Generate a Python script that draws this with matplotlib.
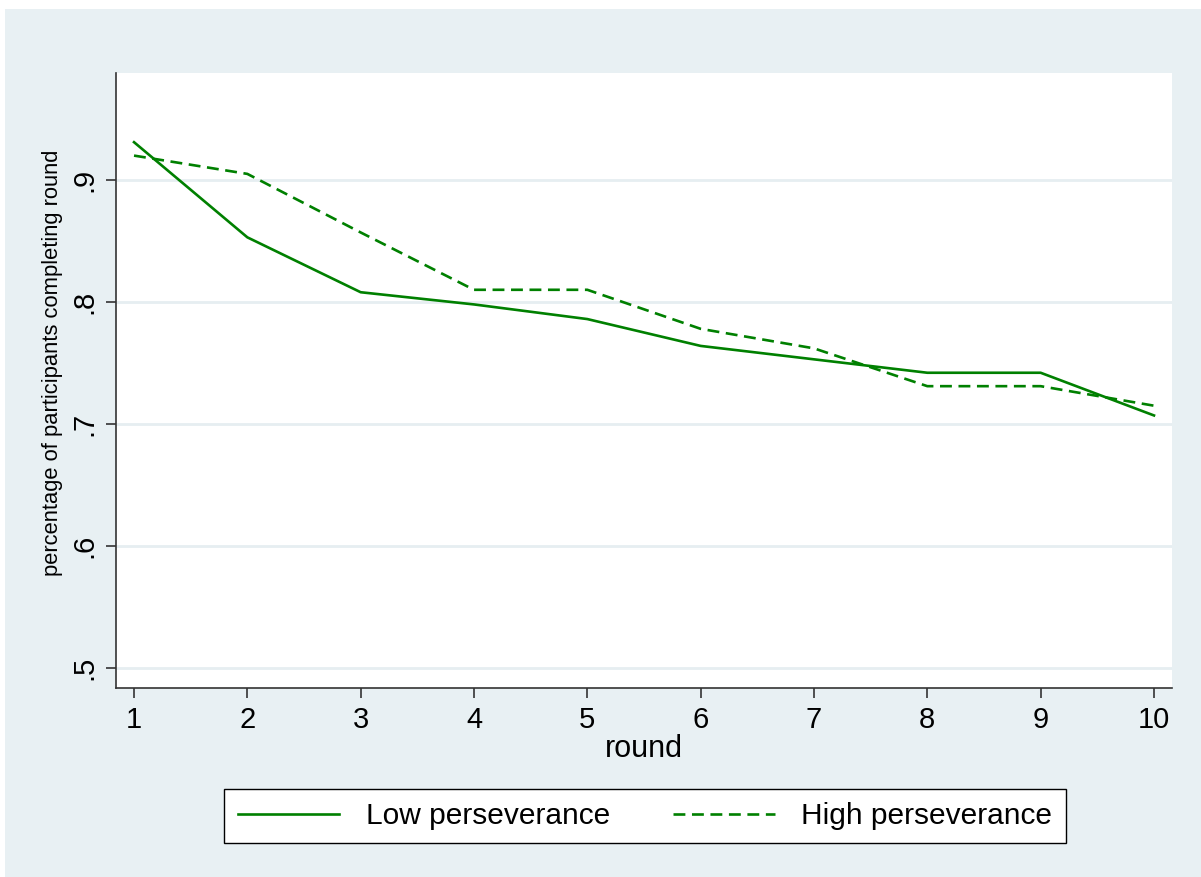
import matplotlib.pyplot as plt
from matplotlib.patches import Rectangle

rounds = [1, 2, 3, 4, 5, 6, 7, 8, 9, 10]
low = [0.931, 0.853, 0.808, 0.798, 0.786, 0.764, 0.753, 0.742, 0.742, 0.707]
high = [0.920, 0.905, 0.857, 0.810, 0.810, 0.778, 0.762, 0.731, 0.731, 0.715]
yticks = [0.5, 0.6, 0.7, 0.8, 0.9]
ytick_labels = ['.5', '.6', '.7', '.8', '.9']

plt.rcParams['font.family'] = ['Liberation Sans', 'DejaVu Sans']

W, H = 1201, 877
fig = plt.figure(figsize=(W / 100, H / 100), dpi=100)
fig.patch.set_facecolor('white')
bg = '#e8f0f3'
fig.patches.append(Rectangle((5 / W, 0), 1, 1 - 9 / H, transform=fig.transFigure,
                             facecolor=bg, edgecolor='none', zorder=-10))

ax = fig.add_axes([116 / W, 1 - 688 / H, (1172 - 116) / W, (688 - 73) / H])
ax.set_facecolor('white')

green = '#008000'
ax.plot(rounds, low, color=green, lw=1.9, label='Low perseverance')
ax.plot(rounds, high, color=green, lw=1.9, dashes=(4.5, 2.5), label='High perseverance')

ax.set_xlim(0.841, 10.159)
ax.set_ylim(0.4836, 0.9877)
ax.set_xticks(rounds)
ax.set_yticks(yticks)
ax.set_yticklabels(ytick_labels, rotation=90, va='center')
ax.yaxis.grid(True, color='#e6eef1', lw=2)
ax.set_axisbelow(True)

for s in ['top', 'right']:
    ax.spines[s].set_visible(False)
for s in ['left', 'bottom']:
    ax.spines[s].set_color('#333333')
    ax.spines[s].set_linewidth(1.2)
ax.tick_params(axis='both', length=7, width=1.2, color='#333333', labelsize=21, pad=6)

ax.set_xlabel('round', fontsize=22, labelpad=0)
ax.set_ylabel('percentage of participants completing round', fontsize=15.8)
ax.yaxis.set_label_coords(-0.05, 0.528)

fig.legend(loc='center', bbox_to_anchor=(645 / W, 1 - 816 / H), ncol=2, fontsize=21.5,
           frameon=True, fancybox=False, edgecolor='black', framealpha=1,
           handlelength=3.4, columnspacing=2.1, borderpad=0.45, handletextpad=0.9)

fig.savefig('out.png', dpi=100, facecolor=fig.get_facecolor())
